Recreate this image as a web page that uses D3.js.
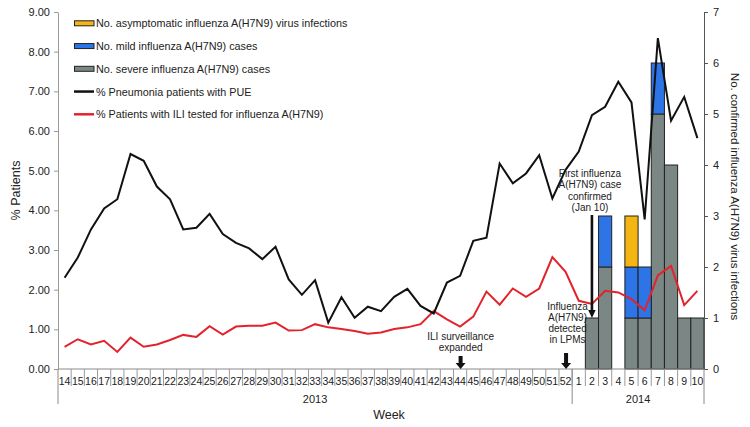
<!DOCTYPE html>
<html>
<head>
<meta charset="utf-8">
<script src="https://cdn.jsdelivr.net/npm/d3@7"></script>
<style>
  html, body { margin: 0; padding: 0; background: #fff; }
  svg { display: block; font-family: "Liberation Sans", Arial, sans-serif; }
</style>
</head>
<body>
<svg id="chart" width="750" height="427"></svg>
<script>
// ---- data ----
const weeks = ["14","15","16","17","18","19","20","21","22","23","24","25","26","27","28","29","30","31","32","33","34","35","36","37","38","39","40","41","42","43","44","45","46","47","48","49","50","51","52","1","2","3","4","5","6","7","8","9","10"];
const years = ["2013", "2014"];
const weeksIn2013 = 39;
const pctPUE = [2.30,2.81,3.52,4.05,4.28,5.42,5.25,4.60,4.28,3.52,3.56,3.91,3.40,3.18,3.04,2.77,3.08,2.26,1.87,2.24,1.17,1.81,1.29,1.57,1.46,1.82,2.02,1.59,1.40,2.18,2.35,3.23,3.31,5.18,4.68,4.93,5.39,4.30,5.02,5.48,6.40,6.61,7.24,6.72,3.77,8.34,6.26,6.86,5.82];
const pctILI = [0.56,0.75,0.62,0.71,0.43,0.79,0.56,0.62,0.73,0.86,0.81,1.08,0.87,1.07,1.09,1.09,1.17,0.97,0.98,1.13,1.05,1.01,0.96,0.89,0.92,1.01,1.05,1.13,1.46,1.25,1.07,1.32,1.95,1.62,2.03,1.82,2.03,2.82,2.45,1.72,1.64,1.97,1.93,1.76,1.48,2.36,2.60,1.61,1.97];
// case counts, weeks 14(2013) .. 10(2014)
const severe = [0,0,0,0,0,0,0,0,0,0,0,0,0,0,0,0,0,0,0,0,0,0,0,0,0,0,0,0,0,0,0,0,0,0,0,0,0,0,0, 0,1,2,0,1,1,5,4,1,1];
const mild   = [0,0,0,0,0,0,0,0,0,0,0,0,0,0,0,0,0,0,0,0,0,0,0,0,0,0,0,0,0,0,0,0,0,0,0,0,0,0,0, 0,0,1,0,1,1,1,0,0,0];
const asymp  = [0,0,0,0,0,0,0,0,0,0,0,0,0,0,0,0,0,0,0,0,0,0,0,0,0,0,0,0,0,0,0,0,0,0,0,0,0,0,0, 0,0,0,0,1,0,0,0,0,0];
const leftTicks = [0,1,2,3,4,5,6,7,8,9];
const rightTicks = [0,1,2,3,4,5,6,7];
const legendLabels = [
  "No. asymptomatic influenza A(H7N9) virus infections",
  "No. mild influenza A(H7N9) cases",
  "No. severe influenza A(H7N9) cases",
  "% Pneumonia patients with PUE",
  "% Patients with ILI tested for influenza A(H7N9)"
];

// ---- layout ----
const L = 58, R = 704, T = 12, B = 369;
const svg = d3.select("#chart");
const x = d3.scaleBand().domain(weeks).range([L, R]).padding(0);
const yL = d3.scaleLinear().domain([0, 9]).range([B, T]);
const yR = d3.scaleLinear().domain([0, 7]).range([B, T]);
const bw = x.bandwidth();
const cx = w => x(w) + bw / 2;

const colors = { severe: "#7b8784", mild: "#2d74e6", asymp: "#f5b614", pue: "#111111", ili: "#e3232c" };

// ---- bars ----
const table = weeks.map((w, i) => ({ week: w, severe: severe[i], mild: mild[i], asymp: asymp[i] }));
const stack = d3.stack().keys(["severe", "mild", "asymp"])(table);
svg.append("g").selectAll("g").data(stack).join("g")
  .attr("fill", d => colors[d.key])
  .selectAll("rect").data(d => d.filter(v => v[1] > v[0])).join("rect")
  .attr("x", d => x(d.data.week))
  .attr("width", bw)
  .attr("y", d => yR(d[1]))
  .attr("height", d => yR(d[0]) - yR(d[1]))
  .attr("stroke", "#222").attr("stroke-width", 1);

// ---- lines ----
const lineGen = vals => d3.line().x((d, i) => cx(weeks[i])).y(d => yL(d))(vals);
svg.append("path").attr("d", lineGen(pctILI)).attr("fill", "none").attr("stroke", colors.ili).attr("stroke-width", 2).attr("stroke-linejoin", "miter");
svg.append("path").attr("d", lineGen(pctPUE)).attr("fill", "none").attr("stroke", colors.pue).attr("stroke-width", 2).attr("stroke-linejoin", "miter");

// ---- axes ----
const axL = svg.append("g").attr("transform", `translate(${L},0)`)
  .call(d3.axisLeft(yL).tickValues(leftTicks).tickFormat(d3.format(".2f")).tickSize(4).tickSizeOuter(0));
axL.selectAll("path,line").attr("stroke", "#9a9a9a");
axL.selectAll("text").attr("font-size", 11).attr("fill", "#222").attr("font-family", "Liberation Sans, Arial, sans-serif").attr("x", -8);

const axR = svg.append("g").attr("transform", `translate(${R},0)`)
  .call(d3.axisRight(yR).tickValues(rightTicks).tickFormat(d3.format("d")).tickSize(4).tickSizeOuter(0));
axR.selectAll("path,line").attr("stroke", "#555");
axR.selectAll("text").attr("font-size", 11).attr("fill", "#222").attr("font-family", "Liberation Sans, Arial, sans-serif").attr("x", 9);

// x axis: week boxes
const gx = svg.append("g");
gx.append("line").attr("x1", L).attr("x2", R).attr("y1", B).attr("y2", B).attr("stroke", "#8a8a8a");
gx.selectAll("line.sep").data(weeks.slice(1)).join("line").attr("class", "sep")
  .attr("x1", d => x(d)).attr("x2", d => x(d)).attr("y1", B).attr("y2", B + 17)
  .attr("stroke", "#9a9a9a");
gx.selectAll("text.wk").data(weeks).join("text").attr("class", "wk")
  .attr("x", d => cx(d)).attr("y", B + 15.5).attr("text-anchor", "middle")
  .attr("font-size", 10.5).attr("fill", "#222").text(d => d);
const bounds = [L, x(weeks[weeksIn2013]), R];
gx.selectAll("line.yr").data(bounds).join("line").attr("class", "yr")
  .attr("x1", d => d).attr("x2", d => d).attr("y1", B).attr("y2", B + 35)
  .attr("stroke", "#8a8a8a");
gx.selectAll("text.yr").data(years).join("text").attr("class", "yr")
  .attr("x", (d, i) => (bounds[i] + bounds[i + 1]) / 2).attr("y", B + 34)
  .attr("text-anchor", "middle").attr("font-size", 11).attr("fill", "#222").text(d => d);

// axis titles
svg.append("text").attr("transform", `translate(20,${(T + B) / 2}) rotate(-90)`)
  .attr("text-anchor", "middle").attr("font-size", 12.5).attr("fill", "#222").text("% Patients");
svg.append("text").attr("transform", `translate(731,${(T + B) / 2 + 6}) rotate(90)`)
  .attr("text-anchor", "middle").attr("font-size", 11.5).attr("fill", "#222").text("No. confirmed influenza A(H7N9) virus infections");
svg.append("text").attr("x", 389).attr("y", 419).attr("text-anchor", "middle")
  .attr("font-size", 12.5).attr("fill", "#222").text("Week");

// ---- legend ----
const lg = svg.append("g");
const legendKeys = ["asymp", "mild", "severe", "pue", "ili"];
legendKeys.forEach((k, i) => {
  const yy = 23.3 + i * 22.75;
  if (i < 3) {
    lg.append("rect").attr("x", 74.5).attr("y", yy - 2.5).attr("width", 19.5).attr("height", 5)
      .attr("fill", colors[k]).attr("stroke", "#222").attr("stroke-width", 1);
  } else {
    lg.append("line").attr("x1", 74).attr("x2", 94).attr("y1", yy).attr("y2", yy)
      .attr("stroke", colors[k]).attr("stroke-width", 2.5);
  }
  lg.append("text").attr("x", 96).attr("y", yy + 4).attr("font-size", 10.8).attr("fill", "#222").text(legendLabels[i]);
});

// ---- annotations ----
function blockArrow(xc, y0, y1, shaftW, headW, headH) {
  const p = d3.path();
  p.moveTo(xc - shaftW / 2, y0);
  p.lineTo(xc + shaftW / 2, y0);
  p.lineTo(xc + shaftW / 2, y1 - headH);
  p.lineTo(xc + headW / 2, y1 - headH);
  p.lineTo(xc, y1);
  p.lineTo(xc - headW / 2, y1 - headH);
  p.lineTo(xc - shaftW / 2, y1 - headH);
  p.closePath();
  svg.append("path").attr("d", p.toString()).attr("fill", "#111");
}
function multiText(xc, yFirst, lines, dy) {
  const t = svg.append("text").attr("text-anchor", "middle").attr("font-size", 10).attr("fill", "#222");
  lines.forEach((s, i) => t.append("tspan").attr("x", xc).attr("y", yFirst + i * dy).text(s));
}
const xa44 = cx("44"), xa52 = cx("52"), xa2 = cx("2");
multiText(xa44 + 0.5, 339.5, ["ILI surveillance", "expanded"], 11);
blockArrow(xa44 + 0.5, 356, B, 4, 10, 6);
multiText(xa52 + 2, 309.5, ["Influenza", "A(H7N9)", "detected", "in LPMs"], 11);
blockArrow(xa52 + 0.5, 353, B, 4, 10, 6);
multiText(xa2 - 2, 176.5, ["First influenza", "A(H7N9) case", "confirmed", "(Jan 10)"], 11.5);
blockArrow(xa2, 215, yR(1), 2.6, 7.5, 8);
</script>
</body>
</html>
